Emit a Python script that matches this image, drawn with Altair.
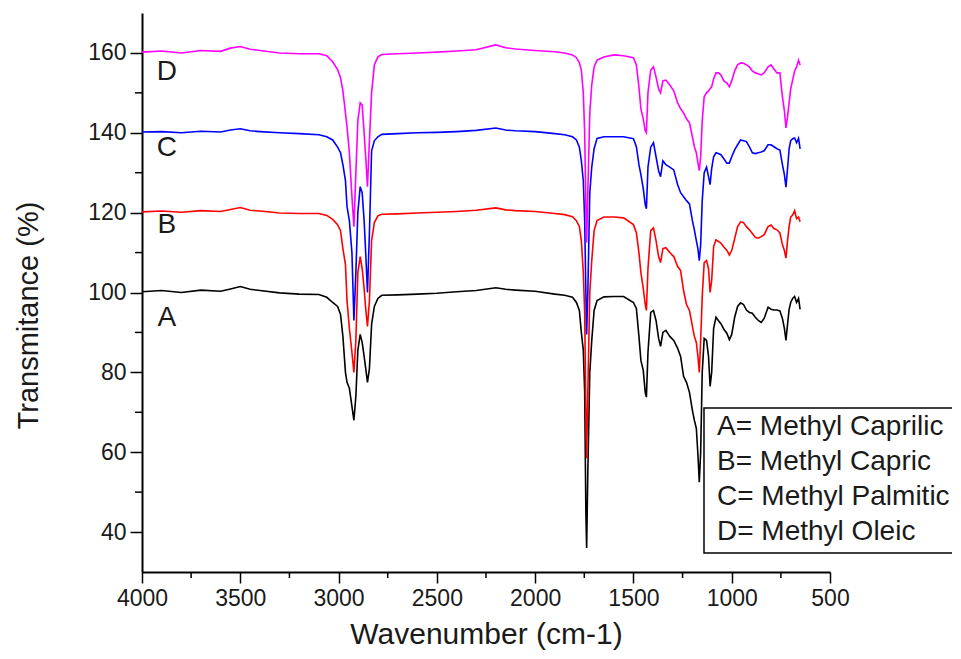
import altair as alt
import pandas as pd

# ---------------- data ----------------
wn = [4000, 3900, 3800, 3700, 3600, 3550, 3500, 3450, 3400, 3300, 3200, 3100,
      3060, 3030, 3005, 2990, 2978, 2965, 2957, 2945, 2932, 2922, 2912, 2902,
      2890, 2880, 2870, 2862, 2853, 2843, 2832, 2818, 2800, 2780,
      2700, 2600, 2500, 2400, 2300, 2200, 2150, 2100, 2000, 1900, 1850,
      1810, 1790, 1775, 1765, 1755, 1748, 1742, 1738, 1732, 1722, 1712,
      1700, 1685, 1650, 1600, 1550, 1500, 1485, 1472, 1462, 1450, 1440,
      1434, 1426, 1412, 1398, 1385, 1372, 1362, 1350, 1335, 1315, 1295,
      1275, 1260, 1245, 1230, 1215, 1200, 1190, 1180, 1172, 1165, 1158,
      1150, 1140, 1128, 1118, 1110, 1102, 1092, 1080, 1068, 1055, 1040,
      1025, 1012, 1000, 985, 970, 955, 940, 925, 910, 895, 880, 865, 850,
      835, 815, 800, 785, 770, 755, 742, 732, 724, 716, 708, 700, 690,
      680, 670, 660, 652]

t_A = [100.2, 100.5, 100.0, 100.6, 100.3, 100.9, 101.5, 100.8, 100.5, 99.9, 99.6, 99.5,
       98.8, 97.5, 96.5, 94.5, 89.0, 80.0, 77.5, 76.0, 71.5, 68.0, 74.0, 85.5,
       89.5, 87.5, 84.0, 81.0, 77.5, 81.0, 92.0, 96.5, 98.5, 99.3,
       99.4, 99.6, 99.8, 100.2, 100.5, 101.2, 100.8, 100.6, 100.3, 99.6, 99.3,
       98.8, 97.5, 95.5, 90.0, 85.5, 75.0, 45.0, 36.0, 55.0, 80.0, 88.0,
       95.5, 98.0, 98.9, 99.0, 99.0, 97.5, 96.0, 89.0, 83.0, 80.5, 75.0,
       73.8, 85.0, 95.0, 95.5, 93.0, 88.5, 86.5, 90.0, 90.5, 89.0, 88.0,
       86.0, 84.0, 79.0, 77.5, 75.0, 70.5, 68.0, 66.0, 59.5, 52.5, 60.0,
       80.0, 88.5, 88.0, 84.0, 76.5, 80.0, 91.0, 93.8, 93.0, 92.2, 90.8,
       89.8, 88.2, 89.5, 93.8, 96.5, 97.4, 97.0, 95.6, 95.0, 94.8, 93.8, 93.0, 92.5,
       93.5, 96.3, 95.8, 95.6, 95.6, 95.4, 93.5, 91.0, 88.0, 92.0, 95.8, 97.5, 98.5,
       99.0, 97.5, 98.5, 95.8]

t_B = [120.2, 120.4, 120.1, 120.5, 120.3, 120.8, 121.3, 120.6, 120.4, 119.9, 119.8, 119.8,
       119.3, 118.3, 117.0, 115.5, 111.0, 107.0, 98.0, 91.0, 85.0, 80.0, 88.0, 105.0,
       109.0, 106.0, 101.0, 96.0, 91.5, 98.0, 113.0, 117.5, 119.2, 119.6,
       119.7, 119.9, 120.1, 120.3, 120.6, 121.2, 120.7, 120.5, 120.3, 119.8, 119.5,
       119.0, 118.0, 116.5, 113.0, 105.0, 95.0, 70.0, 58.5, 75.0, 100.0, 108.0,
       115.5, 118.0, 118.9, 118.9, 118.7, 117.0, 115.0, 110.0, 105.0, 101.0, 97.0,
       95.5, 106.0, 115.5, 116.2, 113.0, 109.0, 107.5, 111.0, 111.2, 110.0, 109.0,
       106.5, 105.5, 100.5, 97.0, 95.5, 91.5, 89.0, 87.5, 84.0, 80.0, 88.0,
       99.0, 107.5, 108.0, 106.0, 100.0, 103.0, 111.5, 113.2, 112.8, 112.4, 111.4,
       110.6, 109.4, 110.5, 113.5, 116.5, 117.7, 117.5, 116.5, 115.7, 114.8, 113.8, 113.6, 114.0,
       114.5, 116.5, 116.9, 116.0, 115.7, 114.9, 112.0, 110.5, 108.6, 113.0, 116.5, 118.9, 119.4,
       120.5, 118.5, 118.9, 117.7]

t_C = [140.2, 140.3, 140.0, 140.4, 140.2, 140.7, 141.0, 140.5, 140.3, 140.0, 139.8, 139.5,
       139.0, 138.2, 136.4, 135.0, 132.0, 128.0, 121.5, 118.0, 110.0, 93.0, 105.0, 120.0,
       126.5, 125.0, 118.0, 110.0, 100.0, 115.0, 135.5, 138.0, 139.0, 139.6,
       139.8, 140.0, 140.1, 140.3, 140.6, 141.2, 140.7, 140.5, 140.3, 139.8, 139.5,
       139.0, 138.2, 136.4, 133.0, 128.0, 118.0, 100.0, 89.5, 100.0, 125.0, 131.4,
       136.0, 138.6, 139.0, 139.0, 139.0, 138.5, 136.5, 132.0, 129.5, 126.0, 122.0,
       121.0, 131.4, 136.4, 137.5, 134.0, 130.5, 129.0, 133.0, 132.0, 131.4, 130.7,
       127.0, 125.0, 124.0, 123.0, 122.2, 118.0, 115.7, 113.0, 111.0, 108.0, 112.0,
       123.0, 130.0, 131.4, 129.0, 127.0, 131.0, 134.0, 135.0, 134.8, 134.5, 133.5,
       132.4, 132.4, 134.0, 135.7, 137.0, 138.2, 138.0, 137.8, 136.5, 135.0, 134.8, 135.0, 135.2,
       135.5, 137.0, 137.0, 136.5, 136.0, 135.7, 132.0, 129.5, 126.4, 131.0, 136.0, 138.0, 138.5,
       138.7, 137.5, 138.6, 136.0]

t_D = [160.2, 160.5, 160.0, 160.6, 160.4, 161.2, 161.6, 160.9, 160.6, 160.0, 159.8, 159.8,
       159.3, 157.8, 155.8, 153.8, 150.5, 145.0, 141.5, 135.0, 124.0, 116.5, 130.0, 143.0,
       147.5, 147.0, 140.0, 134.0, 126.5, 138.0, 150.0, 157.0, 159.0, 159.6,
       159.8, 160.0, 160.2, 160.5, 160.8, 162.0, 161.3, 161.0, 160.6, 160.3, 160.0,
       159.5, 158.8, 157.5, 155.7, 150.0, 140.0, 122.0, 112.5, 125.0, 145.0, 152.0,
       156.5, 158.2, 159.0, 159.5, 159.3, 158.8, 157.0, 151.5, 146.0, 143.5, 140.5,
       140.0, 150.0, 155.7, 156.5, 154.0, 151.0, 150.0, 153.0, 153.2, 152.0, 150.5,
       147.5, 146.0, 145.0, 143.5, 142.5, 139.0, 136.5, 135.0, 132.5, 130.5, 134.0,
       143.0, 149.0, 150.0, 150.5, 151.0, 151.5, 153.5, 155.0, 155.0, 154.5, 153.0,
       152.5, 151.5, 153.0, 155.5, 157.0, 157.5, 157.4, 157.0, 156.5, 155.5, 155.0, 154.8, 154.5,
       155.0, 156.5, 157.0, 156.0, 155.0, 155.0, 149.0, 145.5, 141.2, 144.0, 147.5, 151.0, 153.2,
       155.5, 156.5, 158.2, 157.0]

series_names = ["A", "B", "C", "D"]
series_values = [t_A, t_B, t_C, t_D]
series_colors = ["#000000", "#ff0000", "#0000ff", "#ff00ff"]

x_major = [4000, 3500, 3000, 2500, 2000, 1500, 1000, 500]
x_minor = [3750, 3250, 2750, 2250, 1750, 1250, 750]
y_major = [40, 60, 80, 100, 120, 140, 160]
y_minor = [50, 70, 90, 110, 130, 150]

curve_labels = ["A", "B", "C", "D"]
curve_label_wn = [3873, 3873, 3873, 3873]
curve_label_t = [93.6, 116.9, 136.2, 155.2]

legend_lines = ["A= Methyl Caprilic", "B= Methyl Capric",
                "C= Methyl Palmitic", "D= Methyl Oleic"]

# ---------------- chart ----------------
W, H = 688, 559
FONT = "Liberation Sans"
TXT = "#1a1a1a"

xs = alt.Scale(domain=[500, 4000], reverse=True, nice=False, zero=False)
ys = alt.Scale(domain=[30, 170], nice=False, zero=False)

x_axis = alt.Axis(values=x_major, format="d", title="Wavenumber (cm-1)",
                  grid=False, tickSize=11, tickWidth=1.5, tickColor="black",
                  domainColor="black", domainWidth=2, labelFont=FONT,
                  labelFontSize=23, labelColor=TXT, labelPadding=4,
                  labelFlush=False, titleFont=FONT, titleFontSize=30,
                  titleFontWeight="normal", titleColor=TXT,
                  titleBaseline="middle", titleY=62)
y_axis = alt.Axis(values=y_major, format="d", title="Transmitance (%)",
                  grid=False, tickSize=12, tickWidth=1.5, tickColor="black",
                  domainColor="black", domainWidth=2, labelFont=FONT,
                  labelFontSize=23, labelColor=TXT, labelPadding=4,
                  labelFlush=False, titleFont=FONT, titleFontSize=29,
                  titleFontWeight="normal", titleColor=TXT,
                  titleAngle=270, titleBaseline="middle", titleAlign="center",
                  titleX=-114, titleY=302)

X = lambda: alt.X("wn:Q", scale=xs, axis=x_axis)
Y = lambda: alt.Y("T:Q", scale=ys, axis=y_axis)

layers = []
for name, vals, col in zip(series_names, series_values, series_colors):
    df = pd.DataFrame({"wn": wn, "T": vals})
    layers.append(
        alt.Chart(df).mark_line(color=col, strokeWidth=1.6, clip=True).encode(
            x=X(), y=Y()))

minor_x = alt.Chart(pd.DataFrame({"wn": x_minor})).mark_rule(
    color="black", strokeWidth=1.5).encode(
    x=X(), y=alt.value(H), y2=alt.value(H + 6))

minor_y = alt.Chart(pd.DataFrame({"T": y_minor})).mark_rule(
    color="black", strokeWidth=1.5).encode(
    y=Y(), x=alt.value(0), x2=alt.value(-7))

labels = alt.Chart(pd.DataFrame({"wn": curve_label_wn, "T": curve_label_t,
                                 "lab": curve_labels})).mark_text(
    font=FONT, fontSize=28, color=TXT, align="center", baseline="middle").encode(
    x=X(), y=Y(), text="lab:N")

legend_box = alt.Chart(pd.DataFrame({"k": [0]})).mark_rect(
    fill="white", stroke="black", strokeWidth=1.5).encode(
    x=alt.value(562), x2=alt.value(820), y=alt.value(395), y2=alt.value(540))

legend_texts = []
for i, line in enumerate(legend_lines):
    legend_texts.append(
        alt.Chart(pd.DataFrame({"t": [line]})).mark_text(
            font=FONT, fontSize=28, color=TXT, align="left", baseline="middle").encode(
            x=alt.value(575), y=alt.value(414 + 35 * i), text="t:N"))

chart = alt.layer(*layers, minor_x, minor_y, labels, legend_box, *legend_texts).properties(
    width=W, height=H,
    padding={"left": 134, "top": 5, "right": 122, "bottom": 79},
    autosize=alt.AutoSizeParams(type="none"),
).configure_view(stroke=None)

chart.save("out.html", embed_options={"renderer": "svg", "actions": False})
